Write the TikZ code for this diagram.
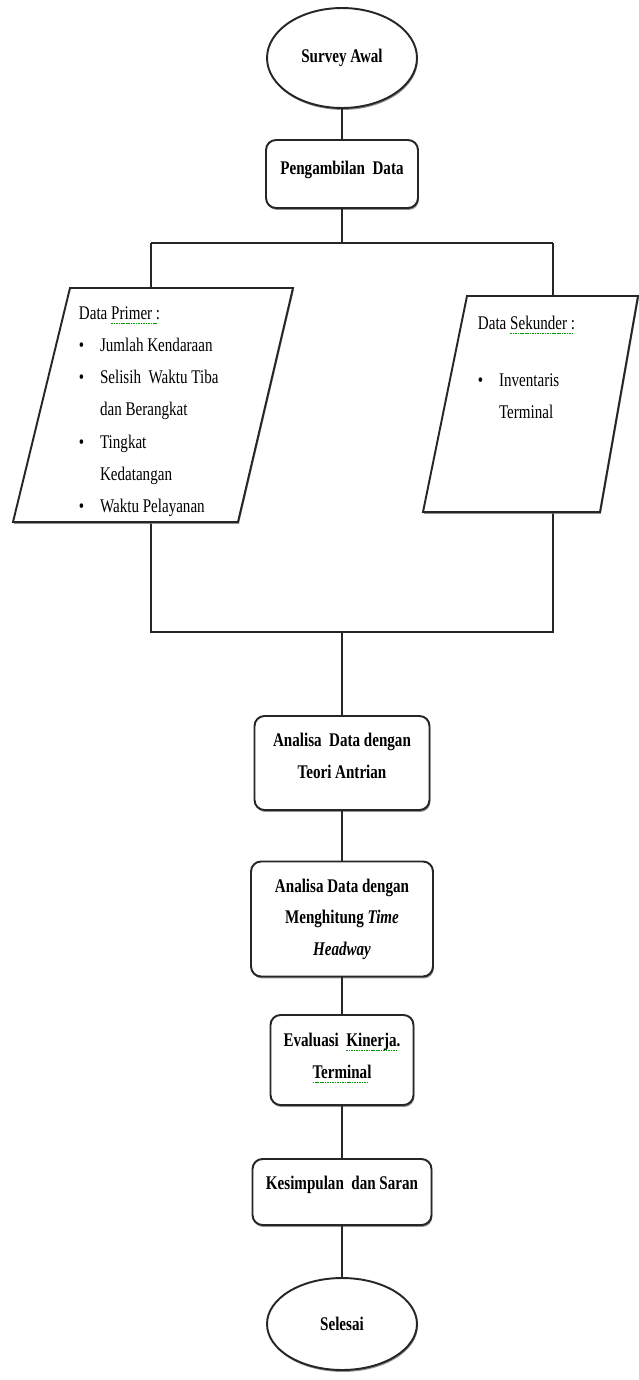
\documentclass[tikz,border=0pt]{standalone}
\usepackage{fontspec}
\setmainfont{Liberation Serif}[FakeStretch=0.78]
\usetikzlibrary{shapes.geometric,shadows}
\newcommand\gsq[1]{\setbox0\hbox{#1}\rlap{\color{green!60!black}\raisebox{-2.8pt}{\hbox to \wd0{\leaders\hbox{\rule{0.9pt}{0.7pt}\hskip0.5pt}\hfill}}}\box0}
\newcommand\lowr[1]{\rule[-#1]{0pt}{#1}}
\begin{document}
\begin{tikzpicture}[x=0.02cm,y=-0.02cm,line width=1.1pt,
  every node/.style={font=\fontsize{11}{18.3}\selectfont},
  shd/.style={drop shadow={shadow xshift=0.5pt,shadow yshift=-1.1pt,fill=black!55,opacity=0.8}},
  term/.style={ellipse,draw=black!85,fill=white,shd,inner sep=0pt,font=\bfseries\fontsize{11}{18}\selectfont},
  proc/.style={rectangle,rounded corners=0.2cm,draw=black!85,fill=white,shd,align=center,inner sep=0pt,font=\bfseries\fontsize{11}{18}\selectfont},
  io/.style={draw=black!85,fill=white,shd},
  txt/.style={anchor=north west,inner sep=0pt,align=left},
  ln/.style={draw=black!85}]
\useasboundingbox (0,0) rectangle (639,1380);

% junction coordinates
\coordinate (j1) at (342,243);
\coordinate (j1l) at (151,243);
\coordinate (j1r) at (553,243);
\coordinate (j2) at (342,632);
\coordinate (j2l) at (151,632);
\coordinate (j2r) at (553,632);
\coordinate (ptop) at (151,288);
\coordinate (pbot) at (151,522);
\coordinate (stop) at (553,296);
\coordinate (sbot) at (553,512);

% connectors (drawn first, shapes cover ends)
\draw[ln] (j1l) -- (j1r);
\draw[ln] (j1l) -- (ptop);
\draw[ln] (j1r) -- (stop);
\draw[ln] (pbot) -- (j2l) -- (j2r) -- (sbot);

% parallelograms
\draw[io] (70,288) -- (293,288) -- (238,522) -- (13,522) -- cycle;
\draw[io] (467,296) -- (638,296) -- (600,512) -- (423,512) -- cycle;

\node[txt] (prim) at (78,296) {%
\begin{tabular}{@{}l@{\hspace{9pt}}l@{}}
\multicolumn{2}{@{}l@{}}{Data \gsq{Primer :}}\\
\textbullet & Jumlah Kendaraan\\
\textbullet & Selisih\ \ Waktu Tiba\\
 & dan Berangkat\\
\textbullet & Tingkat\\
 & Kedatangan\\
\textbullet & Waktu Pelayanan
\end{tabular}};

\node[txt] (sek) at (477,306) {%
\begin{tabular}{@{}l@{\hspace{9pt}}l@{}}
\multicolumn{2}{@{}l@{}}{Data \gsq{Sekunder :}}\\[14pt]
\textbullet & Inventaris\\
 & Terminal
\end{tabular}};

% main column
\node[term,minimum width=3cm,minimum height=2cm] (start) at (342,58) {Survey Awal};
\node[proc,minimum width=3.04cm,minimum height=1.36cm] (ambil) at (342,174) {Pengambilan\ \ Data\lowr{7pt}};
\node[proc,minimum width=3.5cm,minimum height=1.88cm] (a1) at (342,763) {Analisa\ \ Data dengan\\Teori Antrian\lowr{8pt}};
\node[proc,minimum width=3.64cm,minimum height=2.3cm] (a2) at (342,919) {Analisa Data dengan\\Menghitung \textit{Time}\\\textit{Headway}};
\node[proc,minimum width=2.86cm,minimum height=1.8cm] (ev) at (342,1060) {Evaluasi\ \ \gsq{Kinerja.}\\\gsq{Terminal}\lowr{5pt}};
\node[proc,minimum width=3.58cm,minimum height=1.32cm] (ks) at (342,1192) {Kesimpulan\ \ dan Saran\lowr{11pt}};
\node[term,minimum width=3cm,minimum height=1.84cm] (end) at (342,1324) {Selesai};

\draw[ln] (start) -- (ambil);
\draw[ln] (ambil) -- (j1);
\draw[ln] (j2) -- (a1);
\draw[ln] (a1) -- (a2);
\draw[ln] (a2) -- (ev);
\draw[ln] (ev) -- (ks);
\draw[ln] (ks) -- (end);
\end{tikzpicture}
\end{document}
